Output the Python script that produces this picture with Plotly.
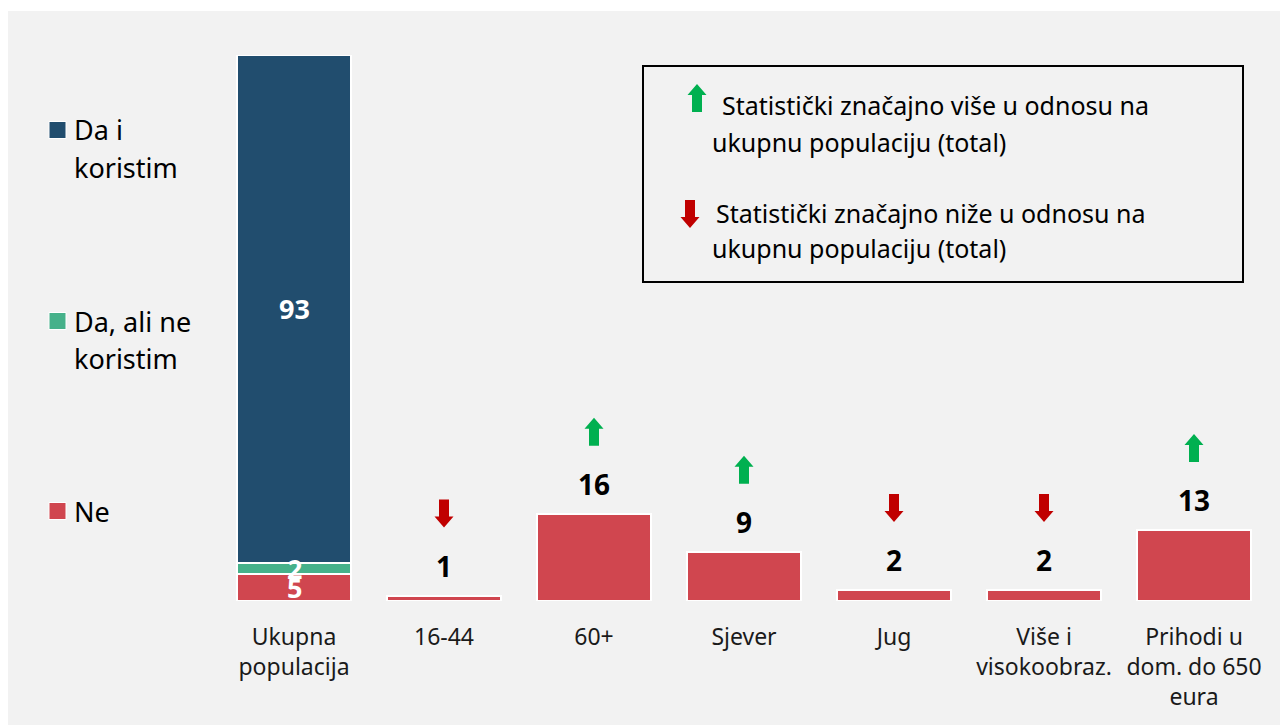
import plotly.graph_objects as go

# categories and values (percent)
categories = ["Ukupna<br>populacija", "16-44", "60+", "Sjever", "Jug",
              "Više i<br>visokoobraz.", "Prihodi u<br>dom. do 650<br>eura"]
da_koristim = [93, None, None, None, None, None, None]
da_ne_koristim = [2, None, None, None, None, None, None]
ne = [5, 1, 16, 9, 2, 2, 13]
signif = ["", "down", "up", "up", "down", "down", "up"]

series_names = ["Da i koristim", "Da, ali ne koristim", "Ne"]
legend_lines = [["Da i", "koristim"], ["Da, ali ne", "koristim"], ["Ne"]]
note_up = ["Statistički značajno više u odnosu na", "ukupnu populaciju (total)"]
note_down = ["Statistički značajno niže u odnosu na", "ukupnu populaciju (total)"]

BLUE = "#214d6e"
GREEN = "#46b18a"
RED = "#d0464f"
UP = "#00b050"
DOWN = "#c00000"
FONT = "Noto Sans"

# page body has an 8px margin, so figure coords = screen coords - 8
OFF = 8
W, H = 1288, 725
L, R, T, B = 211, 27, 47, 132
PW, PH = W - L - R, H - T - B


def px(X):
    return (X - OFF - L) / PW


def py(Y):
    return (T + PH - (Y - OFF)) / PH


fig = go.Figure()

for vals, name, color in [(ne, series_names[2], RED),
                          (da_ne_koristim, series_names[1], GREEN),
                          (da_koristim, series_names[0], BLUE)]:
    fig.add_trace(go.Bar(x=categories, y=vals, name=name, marker_color=color,
                         marker_line=dict(color="white", width=2)))

shapes = [dict(type="rect", xref="paper", yref="paper", x0=px(8), x1=px(W + 20), y0=py(H + 20), y1=py(11),
               fillcolor="#f2f2f2", line_width=0, layer="below")]
annotations = []

# white labels inside the stacked total bar (drawn on top, they overlap as in the source)
base = 0
for vals in [ne, da_ne_koristim, da_koristim]:
    v = vals[0]
    annotations.append(dict(x=categories[0], y=base + v / 2, xref="x", yref="y", text=f"<b>{v}</b>",
                            showarrow=False, yanchor="middle",
                            font=dict(size=27, color="white", family=FONT)))
    base += v

up_path = "M 0 96 L 9.5 85 L 5 85 L 5 68 L -5 68 L -5 85 L -9.5 85 Z"
down_path = "M 0 68 L 9.5 79 L 5 79 L 5 96 L -5 96 L -5 79 L -9.5 79 Z"

# value labels and significance arrows for the subgroup bars
for i in range(1, len(categories)):
    annotations.append(dict(x=categories[i], y=ne[i], xref="x", yref="y", text=f"<b>{ne[i]}</b>",
                            showarrow=False, yanchor="middle", yshift=30,
                            font=dict(size=28, color="black", family=FONT)))
    if signif[i]:
        shapes.append(dict(type="path", xref="x", yref="y", xsizemode="pixel", ysizemode="pixel",
                           xanchor=categories[i], yanchor=ne[i],
                           path=up_path if signif[i] == "up" else down_path,
                           fillcolor=UP if signif[i] == "up" else DOWN, line_width=0))

# left legend
legend_colors = [BLUE, GREEN, RED]
legend_y = [130, 321, 511]
for lines, color, y0 in zip(legend_lines, legend_colors, legend_y):
    shapes.append(dict(type="rect", xref="paper", yref="paper", x0=px(49), x1=px(66),
                       y0=py(y0 + 8.5), y1=py(y0 - 8.5), fillcolor=color,
                       line=dict(color="white", width=1)))
    for k, line in enumerate(lines):
        annotations.append(dict(x=px(72), y=py(y0 + 37 * k), xref="paper", yref="paper",
                                text=line, showarrow=False, xanchor="left", yanchor="middle",
                                font=dict(size=27, color="black", family=FONT)))

# significance note box
shapes.append(dict(type="rect", xref="paper", yref="paper", x0=px(643), x1=px(1243),
                   y0=py(282), y1=py(66), line=dict(color="black", width=2), fillcolor="rgba(0,0,0,0)"))
shapes.append(dict(type="path", xref="paper", yref="paper", xsizemode="pixel", ysizemode="pixel",
                   xanchor=px(697), yanchor=py(180), path=up_path, fillcolor=UP, line_width=0))
shapes.append(dict(type="path", xref="paper", yref="paper", xsizemode="pixel", ysizemode="pixel",
                   xanchor=px(690), yanchor=py(296), path=down_path, fillcolor=DOWN, line_width=0))
for lines, xs, ys in [(note_up, [720, 710], [105, 142]), (note_down, [714, 710], [213, 248])]:
    for line, xx, yy in zip(lines, xs, ys):
        annotations.append(dict(x=px(xx), y=py(yy), xref="paper", yref="paper", text=line,
                                showarrow=False, xanchor="left", yanchor="middle",
                                font=dict(size=25, color="black", family=FONT)))

fig.update_layout(
    width=W, height=H,
    barmode="stack", bargap=0.24,
    showlegend=False,
    paper_bgcolor="white", plot_bgcolor="rgba(0,0,0,0)",
    margin=dict(l=L, r=R, t=T, b=B),
    font=dict(family=FONT, color="black"),
    xaxis=dict(showline=False, showgrid=False, ticks="", ticklabelstandoff=20,
               tickfont=dict(size=23, color="#1a1a1a", family=FONT)),
    yaxis=dict(visible=False, range=[0, 100]),
    shapes=shapes,
    annotations=annotations,
)

fig.write_html("out.html")
